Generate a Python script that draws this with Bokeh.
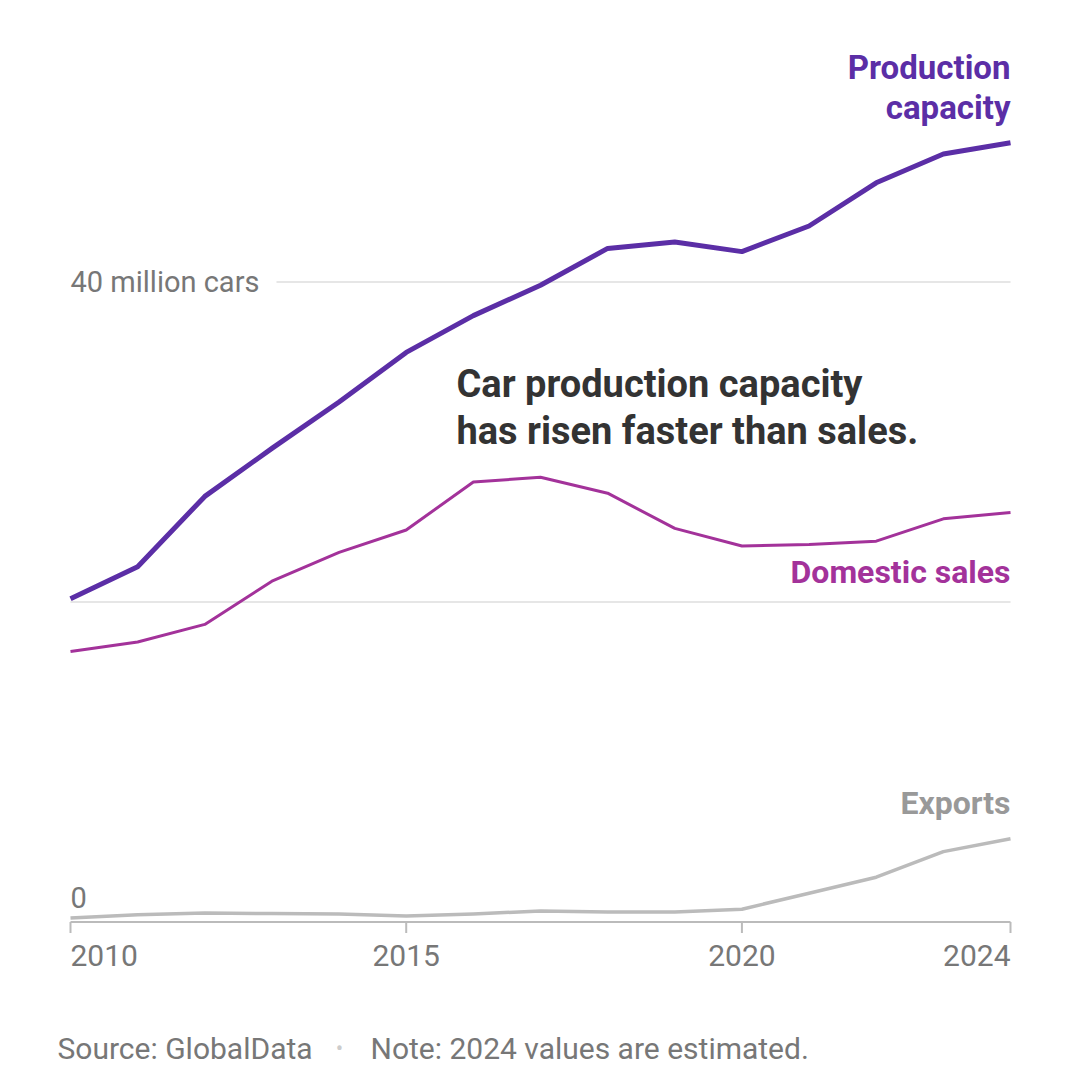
from bokeh.plotting import figure
from bokeh.models import Range1d
from bokeh.core.properties import value
from bokeh.embed import file_html
from bokeh.resources import INLINE

# ---------------- data ----------------
years = list(range(2010, 2025))
production_capacity = [20.2, 22.2, 26.6, 29.6, 32.5, 35.6, 37.9, 39.8, 42.1, 42.5, 41.9, 43.5, 46.2, 48.0, 48.7]
domestic_sales = [16.9, 17.5, 18.6, 21.3, 23.1, 24.5, 27.5, 27.8, 26.8, 24.6, 23.5, 23.6, 23.8, 25.2, 25.6]
exports = [0.25, 0.45, 0.56, 0.53, 0.5, 0.38, 0.5, 0.69, 0.63, 0.63, 0.8, 1.8, 2.8, 4.4, 5.2]
tick_years = [2010, 2015, 2020, 2024]
tick_labels = ["2010", "2015", "2020", "2024"]
grid_values = [20, 40]
y_labels = ["0", "40 million cars"]

# ---------------- layout ----------------
W, H = 1064, 1075
PX_PER_YEAR = 940 / 14.0
PX_PER_M = 16.0
LEFT_PAD = 70          # px from canvas left to 2010
ZERO_FROM_TOP = 921.5  # px from canvas top to value 0

x0 = years[0] - LEFT_PAD / PX_PER_YEAR
x1 = x0 + W / PX_PER_YEAR
y1 = ZERO_FROM_TOP / PX_PER_M
y0 = y1 - H / PX_PER_M

def dy(px):
    return px / PX_PER_M

def dx(px):
    return px / PX_PER_YEAR

FONT = "Roboto"
PURPLE = "#5b2ea6"
MAGENTA = "#a3329a"
EXPORT_GRAY = "#bbbbbb"
TEXT_GRAY = "#777777"

p = figure(width=W, height=H, output_backend="svg", toolbar_location=None,
           x_range=Range1d(x0, x1), y_range=Range1d(y0, y1),
           x_axis_location=None, y_axis_location=None,
           min_border=0, outline_line_color=None, tools="")
p.grid.visible = False
p.background_fill_color = "white"
p.border_fill_color = "white"

# gridlines
p.segment(x0=[years[0]], y0=[grid_values[0]], x1=[years[-1]], y1=[grid_values[0]],
          line_color="#e6e6e6", line_width=2)
p.segment(x0=[years[0] + dx(206)], y0=[grid_values[1]], x1=[years[-1]], y1=[grid_values[1]],
          line_color="#e6e6e6", line_width=2)

# axis baseline and ticks
p.segment(x0=[years[0]], y0=[0], x1=[years[-1]], y1=[0], line_color="#bbbbbb", line_width=2)
p.segment(x0=tick_years, y0=[0] * len(tick_years), x1=tick_years,
          y1=[-dy(11)] * len(tick_years), line_color="#bbbbbb", line_width=2)

# lines
p.line(years, exports, line_color=EXPORT_GRAY, line_width=3.5, line_join="round")
p.line(years, domestic_sales, line_color=MAGENTA, line_width=3, line_join="round")
p.line(years, production_capacity, line_color=PURPLE, line_width=5, line_join="round")

def txt(x, y, s, size, color, align="left", style="normal"):
    p.text(x=[x], y=[y], text=[s], text_font=value(FONT), text_font_size=f"{size}px",
           text_color=color, text_align=align, text_baseline="middle", text_font_style=style)

# tick labels
ty = -dy(33.5)
txt(tick_years[0], ty, tick_labels[0], 30, TEXT_GRAY, "left")
txt(tick_years[1], ty, tick_labels[1], 30, TEXT_GRAY, "center")
txt(tick_years[2], ty, tick_labels[2], 30, TEXT_GRAY, "center")
txt(tick_years[3], ty, tick_labels[3], 30, TEXT_GRAY, "right")

# y labels
txt(years[0], 0 + dy(24.5), y_labels[0], 29, TEXT_GRAY, "left")
txt(years[0], grid_values[1], y_labels[1], 29, TEXT_GRAY, "left")

# series labels
txt(years[-1], production_capacity[-1] + dy(75), "Production", 33, PURPLE, "right", "bold")
txt(years[-1], production_capacity[-1] + dy(35), "capacity", 33, PURPLE, "right", "bold")
txt(years[-1], domestic_sales[-1] - dy(60), "Domestic sales", 32, MAGENTA, "right", "bold")
txt(years[-1], exports[-1] + dy(36), "Exports", 32, "#999999", "right", "bold")

# annotation
ax = years[0] + dx(386)
txt(ax, dy(921.5 - 383), "Car production capacity", 38, "#333333", "left", "bold")
txt(ax, dy(921.5 - 430), "has risen faster than sales.", 38, "#333333", "left", "bold")

# footer
fy = -dy(1048 - 921.5)
txt(years[0] - dx(13), fy, "Source: GlobalData", 30, TEXT_GRAY, "left")
txt(years[0] + dx(269), fy, "\u2022", 22, "#cccccc", "center")
txt(years[0] + dx(300), fy, "Note: 2024 values are estimated.", 30, TEXT_GRAY, "left")

open("out.html", "w").write(file_html(p, INLINE))
